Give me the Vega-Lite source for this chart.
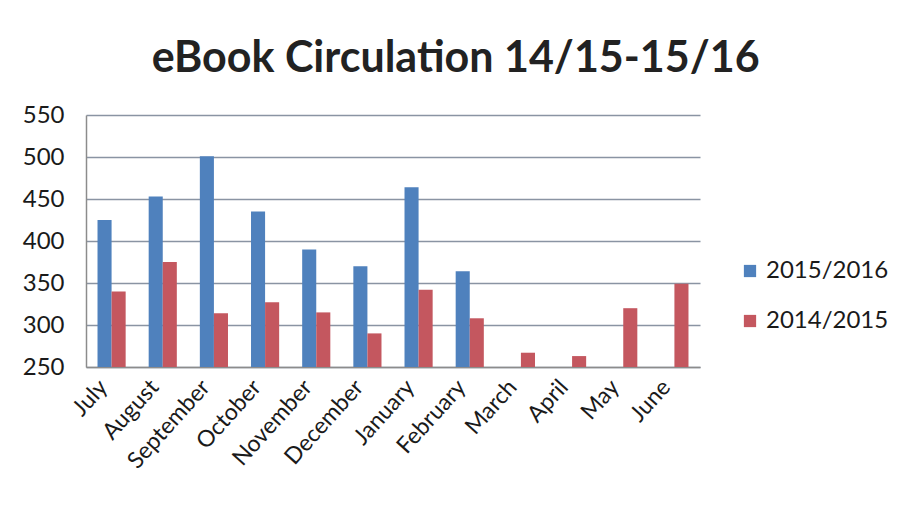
{
  "$schema": "https://vega.github.io/schema/vega-lite/v6.json",
  "width": 614,
  "height": 252,
  "autosize": {"type": "none"},
  "padding": {"left": 86, "top": 115, "right": 208, "bottom": 142},
  "background": "white",
  "title": {
    "text": "eBook Circulation 14/15-15/16",
    "font": "Lato",
    "fontSize": 43,
    "fontWeight": "bold",
    "color": "#222222",
    "anchor": "middle",
    "frame": "bounds",
    "offset": 22
  },
  "data": {
    "values": [
      {"month": "July", "series": "2015/2016", "value": 425},
      {"month": "July", "series": "2014/2015", "value": 340},
      {"month": "August", "series": "2015/2016", "value": 453},
      {"month": "August", "series": "2014/2015", "value": 375},
      {"month": "September", "series": "2015/2016", "value": 501},
      {"month": "September", "series": "2014/2015", "value": 314},
      {"month": "October", "series": "2015/2016", "value": 435},
      {"month": "October", "series": "2014/2015", "value": 327},
      {"month": "November", "series": "2015/2016", "value": 390},
      {"month": "November", "series": "2014/2015", "value": 315},
      {"month": "December", "series": "2015/2016", "value": 370},
      {"month": "December", "series": "2014/2015", "value": 290},
      {"month": "January", "series": "2015/2016", "value": 464},
      {"month": "January", "series": "2014/2015", "value": 342},
      {"month": "February", "series": "2015/2016", "value": 364},
      {"month": "February", "series": "2014/2015", "value": 308},
      {"month": "March", "series": "2014/2015", "value": 267},
      {"month": "April", "series": "2014/2015", "value": 263},
      {"month": "May", "series": "2014/2015", "value": 320},
      {"month": "June", "series": "2014/2015", "value": 349}
    ]
  },
  "mark": {"type": "bar"},
  "encoding": {
    "x": {
      "field": "month",
      "type": "nominal",
      "sort": ["July","August","September","October","November","December","January","February","March","April","May","June"],
      "scale": {"paddingInner": 0.45, "paddingOuter": 0.225},
      "axis": {
        "title": null,
        "labelAngle": -48,
        "labelFont": "Lato",
        "labelFontSize": 23,
        "labelColor": "#1a1a1a",
        "ticks": false,
        "labelPadding": 16,
        "labelOffset": -8,
        "domainColor": "#8c8c8c",
        "domainWidth": 1.5,
        "grid": false
      }
    },
    "xOffset": {"field": "series", "type": "nominal", "sort": ["2015/2016", "2014/2015"]},
    "y": {
      "field": "value",
      "type": "quantitative",
      "scale": {"domain": [250, 550], "zero": false, "nice": false},
      "axis": {
        "title": null,
        "values": [250, 300, 350, 400, 450, 500, 550],
        "labelFont": "Lato",
        "labelFontSize": 24,
        "labelColor": "#1a1a1a",
        "labelPadding": 22,
        "ticks": false,
        "domainColor": "#8c8c8c",
        "domainWidth": 1.5,
        "gridColor": "#8a94a3",
        "gridWidth": 1.5
      }
    },
    "y2": {"datum": 250},
    "color": {
      "field": "series",
      "type": "nominal",
      "scale": {"domain": ["2015/2016", "2014/2015"], "range": ["#4f81bd", "#c4575f"]},
      "legend": {
        "title": null,
        "orient": "none",
        "legendX": 652,
        "legendY": 144,
        "labelFont": "Lato",
        "labelFontSize": 24,
        "labelColor": "#1a1a1a",
        "symbolType": "square",
        "symbolSize": 150,
        "symbolStrokeWidth": 0,
        "rowPadding": 26,
        "labelOffset": 4
      }
    }
  },
  "config": {"view": {"stroke": null}}
}
